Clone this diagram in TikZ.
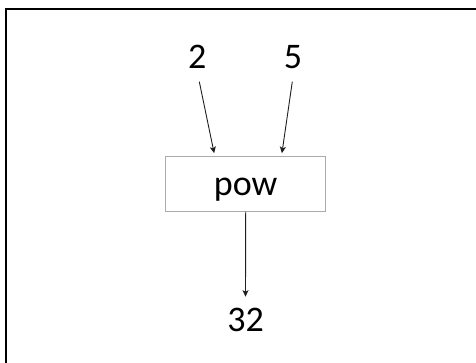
\documentclass[tikz,border=0pt]{standalone}
\usepackage{fontspec}
\setmainfont{Carlito}
\usetikzlibrary{arrows.meta,calc}

\tikzset{
  lbl/.style={inner sep=0pt, anchor=base, font=\fontsize{36}{43}\selectfont, text=black},
  fnbox/.style={draw=black!33, line width=1pt, fill=white},
  arr/.style={-{Stealth[length=6.5pt,width=6pt,inset=1.5pt]}, line width=0.9pt, draw=black!88},
  frameline/.style={line width=2pt, draw=black}
}

\begin{document}
\begin{tikzpicture}[x=1pt,y=1pt]
  \useasboundingbox (0,0) rectangle (476,363);
  \fill[white] (0,0) rectangle (476,363);

  % open frame: left and top edges only
  \draw[frameline] (6,0) -- (6,353.5) -- (476,353.5);

  % function box
  \node[fnbox, minimum width=160pt, minimum height=55pt, inner sep=0pt] (box) at (245.7,179.2) {};
  \node[lbl] (pow) at (245.6,167) {pow};

  % arguments and result
  \node[lbl] (n2) at (197.3,294.7) {2};
  \node[lbl] (n5) at (293,294.7) {5};
  \node[lbl] (n32) at (245.5,31.3) {32};

  % connectors
  \draw[arr] ([xshift=2pt,yshift=-13.4pt]n2.base)
    -- ($(box.north west)!0.304!(box.north east)+(0,2.6)$);
  \draw[arr] ([xshift=-0.7pt,yshift=-13.4pt]n5.base)
    -- ($(box.north west)!0.725!(box.north east)+(0,2.6)$);
  \draw[arr] (box.south) -- ([yshift=35pt]n32.base);
\end{tikzpicture}
\end{document}
